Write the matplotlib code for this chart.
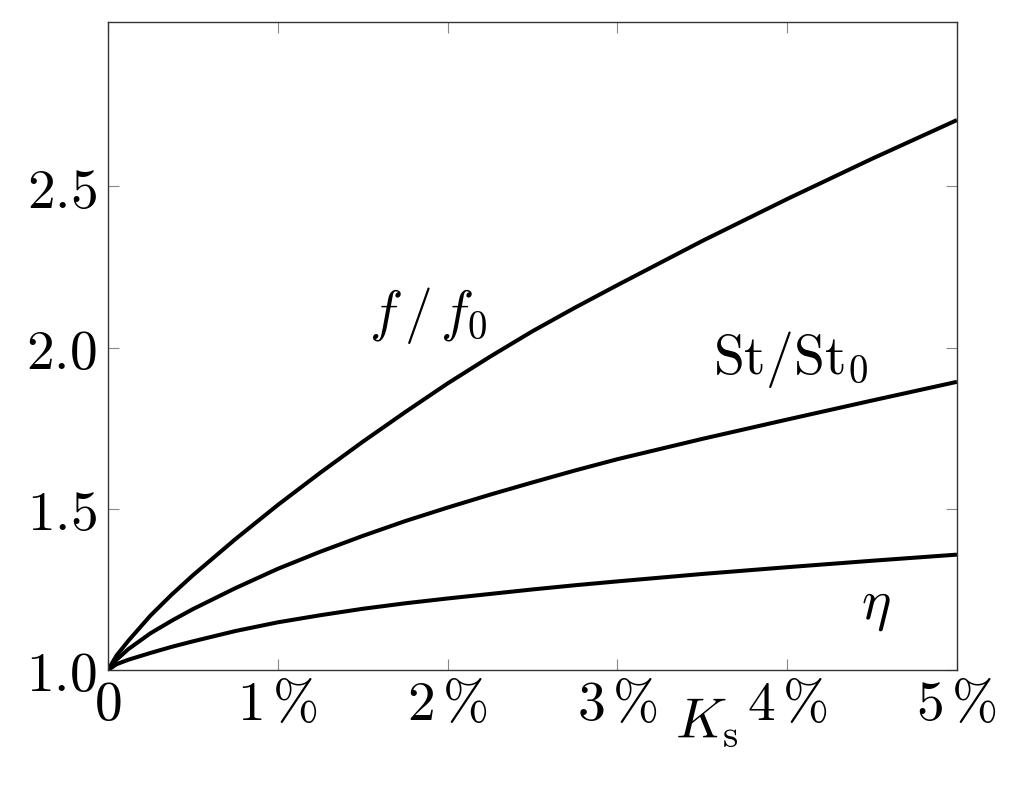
import matplotlib
matplotlib.use('Agg')
import matplotlib.pyplot as plt

plt.rcParams['mathtext.fontset'] = 'cm'
plt.rcParams['font.family'] = 'serif'
plt.rcParams['font.serif'] = ['DejaVu Serif']

# values (K_s in percent)
ks = [0, 0.05, 0.12, 0.25, 0.375, 0.5, 0.75, 1.0, 1.25, 1.5, 1.75, 2.0, 2.25, 2.5, 2.75,
      3.0, 3.5, 4.0, 4.5, 5.0]
f_ratio = [1.0, 1.045, 1.091, 1.169, 1.234, 1.294, 1.406, 1.512, 1.612, 1.708, 1.80, 1.889,
           1.972, 2.051, 2.124, 2.194, 2.331, 2.461, 2.586, 2.706]
st_ratio = [1.0, 1.032, 1.065, 1.114, 1.153, 1.189, 1.254, 1.314, 1.367, 1.416, 1.462, 1.504,
            1.544, 1.582, 1.619, 1.654, 1.717, 1.777, 1.836, 1.894]
eta = [1.0, 1.018, 1.032, 1.053, 1.072, 1.089, 1.121, 1.148, 1.170, 1.190, 1.207, 1.222,
       1.236, 1.250, 1.263, 1.275, 1.298, 1.319, 1.339, 1.358]

xticks = [0, 1, 2, 3, 4, 5]
xtick_labels = [r'$0$', r'$1\,\%$', r'$2\,\%$', r'$3\,\%$', r'$4\,\%$', r'$5\,\%$']
yticks = [1.0, 1.5, 2.0, 2.5]
ytick_labels = [r'$1.0$', r'$1.5$', r'$2.0$', r'$2.5$']

fig = plt.figure(figsize=(10.24, 7.88), dpi=100)
ax = fig.add_axes([0.1055, 0.1497, 0.829, 0.8223])

for ys in (f_ratio, st_ratio, eta):
    ax.plot(ks, ys, color='black', lw=2.9, solid_capstyle='butt', solid_joinstyle='round')

ax.set_xlim(0, 5)
ax.set_ylim(1.0, 3.01)
ax.set_xticks(xticks)
ax.set_xticklabels(xtick_labels, fontsize=40)
ax.set_yticks(yticks)
ax.set_yticklabels(ytick_labels, fontsize=40)
ax.tick_params(direction='in', length=8, width=0.8, color='#888888',
               top=True, right=True)
ax.tick_params(axis='x', pad=5)
ax.tick_params(axis='y', pad=8)
for s in ax.spines.values():
    s.set_linewidth(1.0)
    s.set_color('#333333')

ax.text(1.885, 2.10, r'$f\,/\,f_0$', fontsize=40, ha='center', va='center')
ax.text(4.02, 1.963, r'$\mathrm{St}/\mathrm{St}_0$', fontsize=40, ha='center', va='center')
ax.text(4.52, 1.20, r'$\eta$', fontsize=40, ha='center', va='center')
ax.text(0.705, -0.08, r'$K_\mathrm{s}$', fontsize=40, ha='center', va='center',
        transform=ax.transAxes)

fig.savefig('out.png', dpi=100)
